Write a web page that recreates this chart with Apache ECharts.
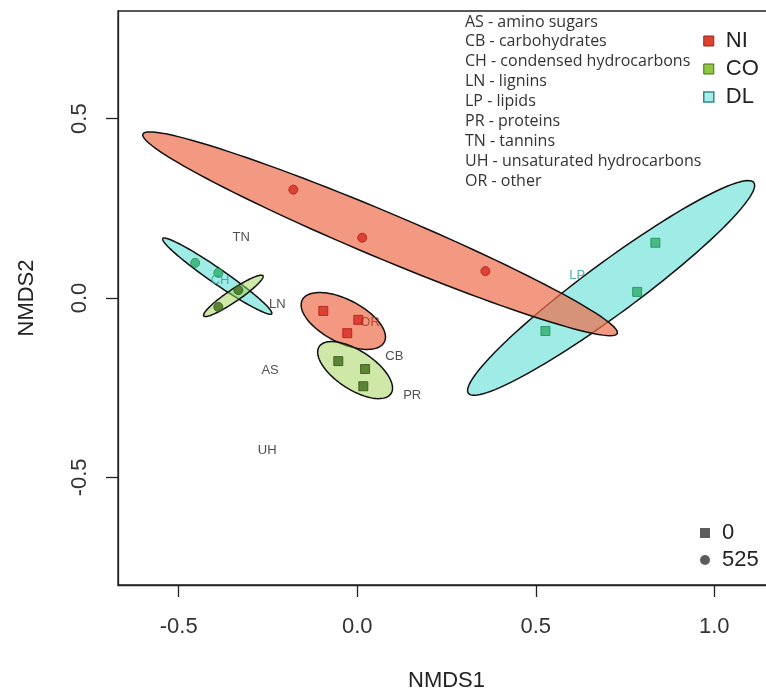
<!DOCTYPE html>
<html>
<head>
<meta charset="utf-8">
<script src="https://cdn.jsdelivr.net/npm/echarts@6/dist/echarts.min.js"></script>
<style>html,body{margin:0;padding:0;background:#fff}#c{width:766px;height:694px}</style>
</head>
<body>
<div id="c"></div>
<script>
// ---- data ----
const xTicks = [-0.5, 0.0, 0.5, 1.0];
const yTicks = [-0.5, 0.0, 0.5];
const groups = ['NI', 'CO', 'DL'];
const times = ['0', '525'];

// ellipses (one per group x time)
const ellGroup = ['DL', 'DL', 'NI', 'NI', 'CO', 'CO'];
const ellTime  = ['0', '525', '525', '0', '0', '525'];
const ellCX    = [0.711, -0.392, 0.064, -0.039, -0.006, -0.347];
const ellCY    = [0.028, 0.061, 0.179, -0.064, -0.201, 0.006];
const ellA     = [0.496, 0.185, 0.72, 0.129, 0.12, 0.10];
const ellB     = [0.072, 0.021, 0.064, 0.060, 0.054, 0.017];
const ellAngle = [36.3, -34.5, -22.7, -27, -33, 34];

// sample points
const ptGroup = ['NI','NI','NI','NI','NI','NI','CO','CO','CO','CO','CO','DL','DL','DL','DL','DL'];
const ptTime  = ['525','525','525','0','0','0','0','0','0','525','525','0','0','0','525','525'];
const ptX     = [-0.179, 0.014, 0.359, -0.095, 0.003, -0.028, -0.053, 0.022, 0.017, -0.389, -0.333, 0.835, 0.784, 0.527, -0.454, -0.389];
const ptY     = [0.302, 0.168, 0.075, -0.036, -0.061, -0.098, -0.176, -0.198, -0.246, -0.025, 0.022, 0.154, 0.017, -0.092, 0.098, 0.070];

// compound class labels
const classCodes = ['TN', 'CH', 'LN', 'OR', 'LP', 'CB', 'PR', 'AS', 'UH'];
const classX = [-0.325, -0.384, -0.224, 0.036, 0.616, 0.104, 0.154, -0.244, -0.252];
const classY = [0.170, 0.050, -0.017, -0.067, 0.064, -0.162, -0.271, -0.201, -0.425];

const abbreviations = [
  'AS - amino sugars',
  'CB - carbohydrates',
  'CH - condensed hydrocarbons',
  'LN - lignins',
  'LP - lipids',
  'PR - proteins',
  'TN - tannins',
  'UH - unsaturated hydrocarbons',
  'OR - other'
];

// ---- styles ----
const ellFill = { NI: 'rgba(240,110,75,0.7)', CO: 'rgba(160,210,80,0.5)', DL: 'rgba(80,220,210,0.55)' };
const ptFill = { NI: '#d42a22', CO: '#3f6a18', DL: '#2fae6c' };
const ptBorder = { NI: '#b01a14', CO: '#2d5210', DL: '#1f8a50' };
const classColor = { CH: '#2a9d9a', LP: '#2a9d9a', OR: '#9a3a2a' };
const legendStyle = {
  NI: { color: '#e0402e', borderColor: '#8a2a20', borderWidth: 1 },
  CO: { color: '#8dc63f', borderColor: '#4a6a20', borderWidth: 1 },
  DL: { color: '#a8ecec', borderColor: '#2a8a8a', borderWidth: 1.5 }
};
const FONT = 'Liberation Sans, Arial, sans-serif';

const chart = echarts.init(document.getElementById('c'));
const series = [];

ellGroup.forEach(function (g, i) {
  series.push({
    type: 'custom',
    name: g,
    z: 2,
    silent: true,
    data: [[ellCX[i], ellCY[i], ellA[i], ellB[i], ellAngle[i]]],
    renderItem: function (params, api) {
      const cx = api.value(0), cy = api.value(1), a = api.value(2), b = api.value(3);
      const th = api.value(4) * Math.PI / 180;
      const pts = [];
      const n = 120;
      for (let k = 0; k < n; k++) {
        const t = 2 * Math.PI * k / n;
        const ex = a * Math.cos(t), ey = b * Math.sin(t);
        pts.push(api.coord([cx + ex * Math.cos(th) - ey * Math.sin(th), cy + ex * Math.sin(th) + ey * Math.cos(th)]));
      }
      return {
        type: 'polygon',
        shape: { points: pts },
        style: { fill: ellFill[g], stroke: '#111', lineWidth: 1.5 }
      };
    },
    encode: { x: 0, y: 1 }
  });
});

times.forEach(function (t) {
  const data = [];
  ptX.forEach(function (x, i) {
    if (ptTime[i] === t) {
      data.push({ value: [x, ptY[i]], itemStyle: { color: ptFill[ptGroup[i]], borderColor: ptBorder[ptGroup[i]], borderWidth: 1 } });
    }
  });
  series.push({
    type: 'scatter',
    name: t,
    z: 5,
    symbol: t === '0' ? 'rect' : 'circle',
    symbolSize: 9,
    itemStyle: { color: '#333' },
    data: data
  });
});

series.push({
  type: 'scatter',
  name: 'classes',
  z: 6,
  symbolSize: 1,
  itemStyle: { color: 'rgba(0,0,0,0)' },
  data: classCodes.map(function (c, i) {
    return {
      value: [classX[i], classY[i]],
      name: c,
      label: { show: true, position: 'inside', formatter: c, color: classColor[c] || '#222', fontSize: 13, fontFamily: FONT }
    };
  })
});

chart.setOption({
  animation: false,
  backgroundColor: '#fff',
  grid: { left: 118, top: 11, bottom: 109, right: -9, show: true, borderColor: '#222', borderWidth: 1.3, containLabel: false, outerBoundsMode: 'none' },
  xAxis: {
    type: 'value', min: -0.67, max: 1.17,
    name: 'NMDS1', nameLocation: 'middle', nameGap: 85,
    nameTextStyle: { fontSize: 22, color: '#222', fontFamily: FONT },
    splitLine: { show: false },
    axisLine: { show: true, onZero: false, lineStyle: { color: '#222', width: 1.3 } },
    axisTick: { show: true, length: 12, customValues: xTicks, lineStyle: { color: '#222', width: 1.3 } },
    axisLabel: { customValues: xTicks, formatter: function (v) { return v.toFixed(1); }, fontSize: 22, color: '#333', margin: 31, fontFamily: FONT }
  },
  yAxis: {
    type: 'value', min: -0.8, max: 0.8,
    name: 'NMDS2', nameLocation: 'middle', nameGap: 80, nameRotate: 90,
    nameTextStyle: { fontSize: 22, color: '#222', fontFamily: FONT },
    splitLine: { show: false },
    axisLine: { show: true, onZero: false, lineStyle: { color: '#222', width: 1.3 } },
    axisTick: { show: true, length: 12, customValues: yTicks, lineStyle: { color: '#222', width: 1.3 } },
    axisLabel: { customValues: yTicks, rotate: 90, formatter: function (v) { return v.toFixed(1); }, fontSize: 22, color: '#333', margin: 27, fontFamily: FONT }
  },
  legend: [
    {
      orient: 'vertical', left: 698, top: 25, itemWidth: 10, itemHeight: 10, itemGap: 6,
      textStyle: { fontSize: 22, color: '#222', fontFamily: FONT, padding: [0, 0, 0, 7] },
      selectedMode: false,
      data: groups.map(function (g) { return { name: g, icon: 'rect', itemStyle: legendStyle[g] }; })
    },
    {
      orient: 'vertical', left: 695, top: 517, itemWidth: 10, itemHeight: 10, itemGap: 5,
      textStyle: { fontSize: 22, color: '#222', fontFamily: FONT, padding: [0, 0, 0, 7] },
      selectedMode: false,
      data: [
        { name: '0', icon: 'rect', itemStyle: { color: '#333', borderColor: '#333', borderWidth: 0 } },
        { name: '525', icon: 'circle', itemStyle: { color: '#333', borderColor: '#333', borderWidth: 0 } }
      ]
    }
  ],
  graphic: [{
    type: 'text', left: 465, top: 12, z: 10,
    style: { text: abbreviations.join('\n'), fontSize: 16, lineHeight: 19.9, fill: '#333', fontFamily: 'Open Sans, sans-serif' }
  }],
  series: series
});
</script>
</body>
</html>
